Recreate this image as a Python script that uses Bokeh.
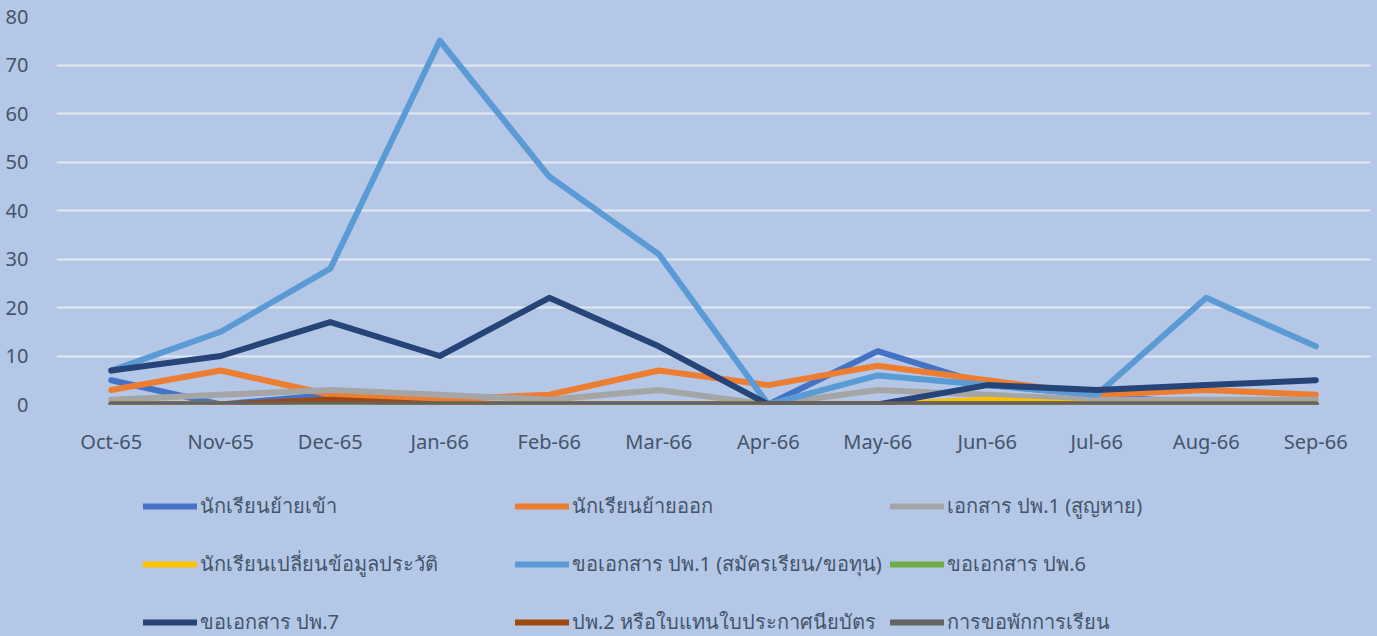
from bokeh.plotting import figure
from bokeh.layouts import column
from bokeh.models import Legend, LegendItem, Range1d, FactorRange, SingleIntervalTicker
from bokeh.embed import file_html
from bokeh.resources import INLINE

months = ["Oct-65", "Nov-65", "Dec-65", "Jan-66", "Feb-66", "Mar-66",
          "Apr-66", "May-66", "Jun-66", "Jul-66", "Aug-66", "Sep-66"]

names = ["นักเรียนย้ายเข้า", "นักเรียนย้ายออก", "เอกสาร ปพ.1 (สูญหาย)",
         "นักเรียนเปลี่ยนข้อมูลประวัติ", "ขอเอกสาร ปพ.1 (สมัครเรียน/ขอทุน)", "ขอเอกสาร ปพ.6",
         "ขอเอกสาร ปพ.7", "ปพ.2 หรือใบแทนใบประกาศนียบัตร", "การขอพักการเรียน"]

move_in = [5, 0, 2, 0, 0, 0, 0, 11, 4, 2, 0, 0]
move_out = [3, 7, 2, 1, 2, 7, 4, 8, 5, 2, 3, 2]
pp1_lost = [1, 2, 3, 2, 1, 3, 0, 3, 2, 1, 1, 1]
change_info = [0, 0, 0, 0, 0, 0, 0, 0, 1, 0, 0, 0]
pp1_request = [7, 15, 28, 75, 47, 31, 0, 6, 4, 2, 22, 12]
pp6 = [0, 0, 0, 0, 0, 0, 0, 0, 0, 0, 0, 0]
pp7 = [7, 10, 17, 10, 22, 12, 0, 0, 4, 3, 4, 5]
pp2 = [0, 0, 1, 0, 0, 0, 0, 0, 0, 0, 0, 0]
suspend = [0, 0, 0, 0, 0, 0, 0, 0, 0, 0, 0, 0]

series = [move_in, move_out, pp1_lost, change_info, pp1_request, pp6, pp7, pp2, suspend]
colors = ["#4472C4", "#ED7D31", "#A5A5A5", "#FFC000", "#5B9BD5", "#70AD47",
          "#264478", "#9E480E", "#636363"]

BG = "#B4C7E7"
TXT = "#44546A"
W = 1377

p = figure(width=W, height=470, x_range=FactorRange(*months, range_padding=0),
           y_range=Range1d(0, 80), output_backend="svg", toolbar_location=None,
           min_border_top=16, min_border_right=7, min_border_left=56, min_border_bottom=66)
p.background_fill_alpha = 0
p.border_fill_color = BG
p.outline_line_color = None

for vals, c in zip(series, colors):
    p.line(months, vals, line_color=c, line_width=6, line_cap="round", line_join="round")

p.xgrid.grid_line_color = None
p.ygrid.grid_line_color = "#E3E8F1"
p.ygrid.grid_line_width = 2
p.yaxis.ticker = SingleIntervalTicker(interval=10)
for ax in (p.xaxis[0], p.yaxis[0]):
    ax.axis_line_color = None
    ax.major_tick_line_color = None
    ax.minor_tick_line_color = None
    ax.major_label_text_color = TXT
    ax.major_label_text_font = "Noto Sans"
    ax.major_label_text_font_size = "20px"
p.yaxis.major_label_standoff = 22
p.xaxis.major_label_standoff = 17

# legend panel: a second figure whose frame is the whole area
lp = figure(width=W, height=166, x_range=FactorRange(*months), y_range=Range1d(1000, 1001),
            output_backend="svg", toolbar_location=None,
            min_border=0, x_axis_location=None, y_axis_location=None)
lp.background_fill_alpha = 0
lp.border_fill_color = BG
lp.outline_line_color = None
lp.grid.grid_line_color = None

items = []
for vals, c, n in zip(series, colors, names):
    r = lp.line(months, vals, line_color=c, line_width=6, line_cap="round")
    items.append(LegendItem(label=n, renderers=[r]))

col_x = [87, 459, 834]
for ci in range(3):
    lg = Legend(items=[items[ci], items[ci + 3], items[ci + 6]], location=(col_x[ci], -2))
    lg.background_fill_alpha = 0
    lg.border_line_color = None
    lg.label_text_font = "Noto Sans"
    lg.label_text_font_size = "20px"
    lg.label_text_color = TXT
    lg.glyph_width = 54
    lg.glyph_height = 20
    lg.label_height = 20
    lg.label_standoff = 3
    lg.spacing = 26
    lg.padding = 0
    lg.margin = 0
    lp.add_layout(lg, "center")

layout = column(p, lp, spacing=0, styles={"background-color": BG})
open("out.html", "w").write(file_html(layout, INLINE))
